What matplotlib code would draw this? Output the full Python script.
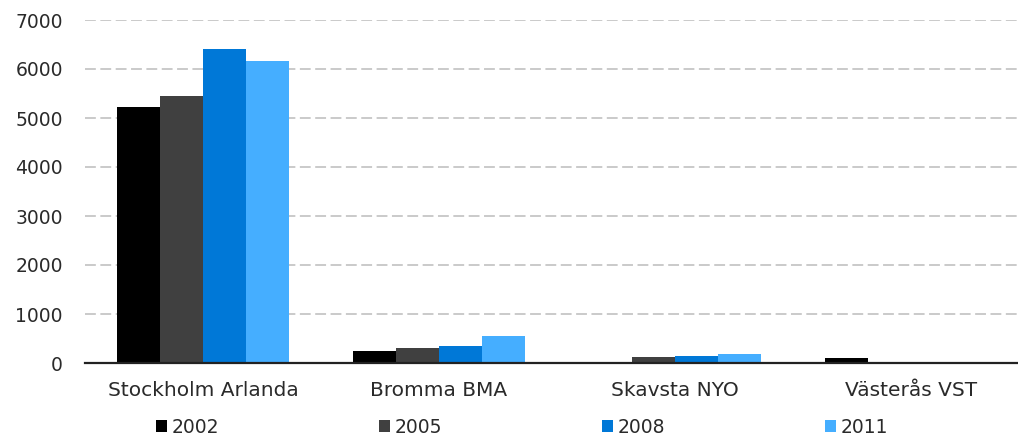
import numpy as np
import matplotlib
matplotlib.use("Agg")
import matplotlib.pyplot as plt
from matplotlib.patches import Patch

# data
airports = ["Stockholm Arlanda", "Bromma BMA", "Skavsta NYO", "Västerås VST"]
years = ["2002", "2005", "2008", "2011"]
vals_2002 = [5220, 250, 0, 100]
vals_2005 = [5440, 300, 120, 0]
vals_2008 = [6400, 355, 145, 0]
vals_2011 = [6170, 550, 180, 0]
yticks = [0, 1000, 2000, 3000, 4000, 5000, 6000, 7000]

colors = ["#000000", "#404040", "#0078d7", "#45aeff"]
series = [vals_2002, vals_2005, vals_2008, vals_2011]

plt.rcParams["font.family"] = ["DejaVu Sans"]
txt_color = "#2a2a2a"

fig = plt.figure(figsize=(10.18, 4.36), dpi=100)
ax = fig.add_axes([85 / 1018, 73 / 436, 933 / 1018, 343 / 436])

x = np.arange(len(airports))
w = 0.182
for i, (vals, c) in enumerate(zip(series, colors)):
    ax.bar(x + (i - 1.5) * w, vals, width=w, color=c, label=years[i], zorder=3)

ax.set_xlim(-0.5, 3.453)
ax.set_ylim(0, 7000)
ax.set_yticks(yticks)
ax.set_xticks(x)
ax.set_xticklabels(airports, fontsize=14.5)
ax.tick_params(axis="both", length=0, colors=txt_color)
ax.tick_params(axis="y", labelsize=13.5, pad=16)
ax.tick_params(axis="x", pad=13)

ax.yaxis.grid(True, color="#c6c6c6", linestyle=(0, (6, 2.5)), linewidth=1.3, zorder=0)
for s in ["top", "right", "left"]:
    ax.spines[s].set_visible(False)
ax.spines["bottom"].set_color("#222222")
ax.spines["bottom"].set_linewidth(1.6)
ax.spines["bottom"].set_zorder(4)

handles = [Patch(facecolor=c, edgecolor="none") for c in colors]
fig.legend(handles, years, loc="center", bbox_to_anchor=(522 / 1018, 1 - 427 / 436),
           ncol=4, frameon=False, fontsize=13.5, labelcolor=txt_color,
           handlelength=0.6, handleheight=0.6, handletextpad=0.25,
           columnspacing=8.5, borderpad=0)

fig.savefig("out.png", dpi=100)
plt.close(fig)
